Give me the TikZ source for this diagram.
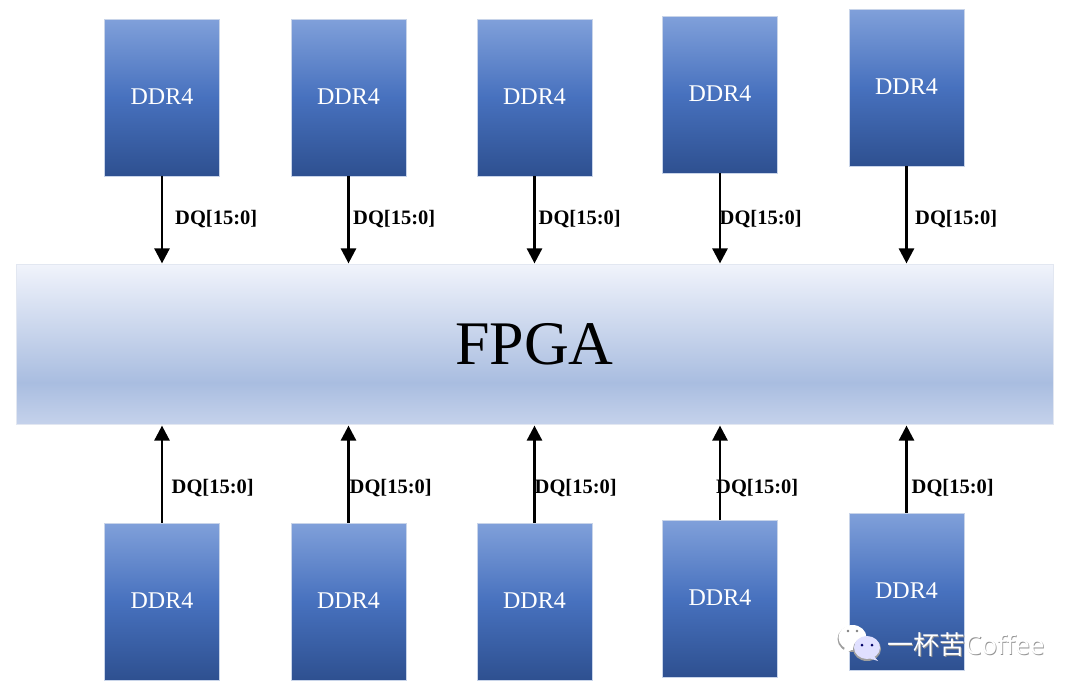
\documentclass[tikz,border=0pt]{standalone}
\usepackage{fontspec}
\setmainfont{Liberation Serif}
\newfontfamily\cjkwm{Noto Sans CJK SC}
\newfontfamily\wmlatin{Noto Sans}
\usetikzlibrary{arrows.meta,positioning}
\definecolor{edgeblue}{RGB}{200,212,233}
\definecolor{fpgaedge}{RGB}{226,231,241}
\pgfdeclareverticalshading{ddrshade}{100bp}{
  color(0bp)=(rgb,255:red,46;green,80;blue,144);
  color(25bp)=(rgb,255:red,46;green,80;blue,144);
  color(50bp)=(rgb,255:red,71;green,113;blue,190);
  color(75bp)=(rgb,255:red,128;green,160;blue,218);
  color(100bp)=(rgb,255:red,128;green,160;blue,218)}
\pgfdeclareverticalshading{fpgashade}{100bp}{
  color(0bp)=(rgb,255:red,197;green,210;blue,235);
  color(25bp)=(rgb,255:red,197;green,210;blue,235);
  color(38bp)=(rgb,255:red,169;green,189;blue,224);
  color(75bp)=(rgb,255:red,240;green,243;blue,251);
  color(100bp)=(rgb,255:red,240;green,243;blue,251)}
\tikzset{
  ddrbox/.style={draw=edgeblue,line width=0.7pt,shading=ddrshade,minimum width=115pt,minimum height=157pt,inner sep=0pt,text=white,font=\fontsize{24}{24}\selectfont},
  ddrtext/.style={text=white,inner sep=0pt,font=\fontsize{24}{24}\selectfont},
  fpgabox/.style={draw=fpgaedge,line width=0.7pt,shading=fpgashade,minimum width=1037pt,minimum height=159.5pt,inner sep=0pt,font=\fontsize{62}{62}\selectfont},
  bus/.style={line width=2.6pt,-{Triangle[length=15pt,width=15pt]},shorten >=1pt},
  buslabel/.style={font=\bfseries\fontsize{20.5}{20.5}\selectfont,inner sep=0pt,text=black,anchor=west},
  wmtext/.style={inner sep=0pt,anchor=west}
}
\begin{document}
\begin{tikzpicture}[x=1pt,y=-1pt]
\useasboundingbox (0,0) rectangle (1080,691);
\node[fpgabox] (fpga) at (534.5,344.5) {FPGA};
% top row
\node[ddrbox] (t1) at (162,97.5) {};
\node[ddrbox] (t2) at (348.5,97.5) {};
\node[ddrbox] (t3) at (534.5,97.5) {};
\node[ddrbox] (t4) at (720,94.5) {};
\node[ddrbox] (t5) at (906.5,87.5) {};
% bottom row
\node[ddrbox] (b1) at (162,601.5) {};
\node[ddrbox] (b2) at (348.5,601.5) {};
\node[ddrbox] (b3) at (534.5,601.5) {};
\node[ddrbox] (b4) at (720,598.5) {};
\node[ddrbox] (b5) at (906.5,591.5) {};
% box captions, 1px above centre as in the reference
\foreach \n in {t1,t2,t3,t4,t5,b1,b2,b3,b4,b5}{
  \node[ddrtext] (c\n) at ([yshift=1pt]\n.center) {DDR4};
}
% connectors
\foreach \n in {1,...,5}{
  \draw[bus] (t\n.south) -- (t\n.south |- fpga.north);
  \draw[bus] (b\n.north) -- (b\n.north |- fpga.south);
}
% labels
\node[buslabel] (lt1) at (175,219) {DQ[15:0]};
\node[buslabel] (lt2) at (353,219) {DQ[15:0]};
\node[buslabel] (lt3) at (538.5,219) {DQ[15:0]};
\node[buslabel] (lt4) at (719.5,219) {DQ[15:0]};
\node[buslabel] (lt5) at (915,219) {DQ[15:0]};
\node[buslabel] (lb1) at (171.5,488) {DQ[15:0]};
\node[buslabel] (lb2) at (349.5,488) {DQ[15:0]};
\node[buslabel] (lb3) at (534.5,488) {DQ[15:0]};
\node[buslabel] (lb4) at (716,488) {DQ[15:0]};
\node[buslabel] (lb5) at (911.5,488) {DQ[15:0]};
% watermark
\fill[gray!75] (852,639) ellipse (14.5 and 13);
\fill[white] (852.5,637.5) ellipse (14 and 12.5);
\fill[gray!75] (867,649) ellipse (14 and 12);
\fill[white!88!blue] (867,647.5) ellipse (13 and 11.5);
\fill[white!88!blue] (873,655) -- (878,661) -- (866,657) -- cycle;
\fill[white] (845,646) -- (843,655) -- (853,649) -- cycle;
\fill[gray] (848,631) circle (1.4) (857,631) circle (1.4);
\fill[blue!40!black] (862,645) circle (1.5) (872,645) circle (1.5);
\node[wmtext,text=gray!85] at (887.8,645.8) {\fontsize{26}{26}\selectfont\cjkwm 一杯苦\wmlatin Coffee};
\node[wmtext,text=white] (wm) at (887,645) {\fontsize{26}{26}\selectfont\cjkwm 一杯苦\wmlatin Coffee};
\end{tikzpicture}
\end{document}
